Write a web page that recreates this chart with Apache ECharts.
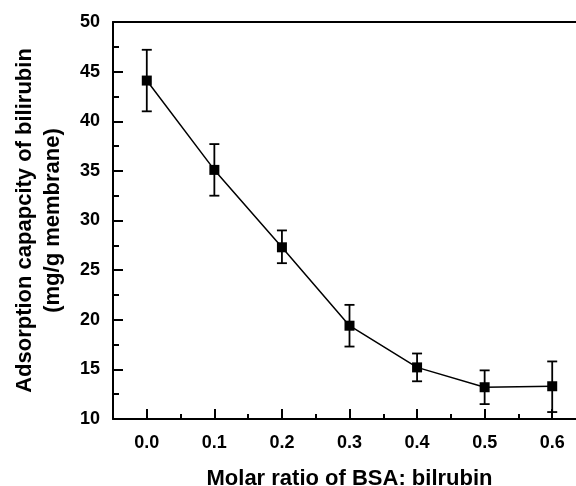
<!DOCTYPE html>
<html>
<head>
<meta charset="utf-8">
<script src="https://cdn.jsdelivr.net/npm/echarts@6/dist/echarts.min.js"></script>
<style>
  html, body { margin: 0; padding: 0; background: #fff; }
  #chart { width: 576px; height: 486px; }
</style>
</head>
<body>
<div id="chart"></div>
<script>
  // data
  var ratios = [0.0, 0.1, 0.2, 0.3, 0.4, 0.5, 0.6];
  var capacity = [44.1, 35.1, 27.3, 19.4, 15.2, 13.2, 13.3];
  var errLow = [41.0, 32.5, 25.7, 17.3, 13.8, 11.5, 10.7];
  var errHigh = [47.2, 37.7, 29.0, 21.5, 16.6, 14.9, 15.8];
  var xMajor = [0.0, 0.1, 0.2, 0.3, 0.4, 0.5, 0.6];
  var xMinor = [0.05, 0.15, 0.25, 0.35, 0.45, 0.55];

  var font = 'Liberation Sans, Arial, sans-serif';

  var points = ratios.map(function (r, i) { return [r, capacity[i]]; });
  var bars = ratios.map(function (r, i) { return [r, errLow[i], errHigh[i]]; });

  var chart = echarts.init(document.getElementById('chart'));
  chart.setOption({
    animation: false,
    grid: { left: 113, top: 22, right: -10, bottom: 67, outerBoundsMode: 'none', containLabel: false },
    xAxis: [{
      type: 'value',
      min: -0.05,
      max: 0.65,
      interval: 0.05,
      splitLine: { show: false },
      axisLine: { onZero: false, lineStyle: { color: '#000', width: 2 } },
      axisTick: { inside: true, length: 10, customValues: xMajor, lineStyle: { color: '#000', width: 2 } },
      axisLabel: {
        customValues: xMajor,
        margin: 15,
        color: '#000',
        fontFamily: font,
        fontWeight: 'bold',
        fontSize: 18,
        formatter: function (v) { return v.toFixed(1); }
      },
      name: 'Molar ratio of BSA: bilrubin',
      nameLocation: 'middle',
      nameGap: 49,
      nameTextStyle: { color: '#000', fontFamily: font, fontWeight: 'bold', fontSize: 22 }
    }, {
      // minor ticks
      type: 'value',
      min: -0.05,
      max: 0.65,
      interval: 0.05,
      position: 'bottom',
      splitLine: { show: false },
      axisLine: { show: false, onZero: false },
      axisTick: { inside: true, length: 5, customValues: xMinor, lineStyle: { color: '#000', width: 2 } },
      axisLabel: { show: false }
    }, {
      // top frame line
      type: 'value',
      min: -0.05,
      max: 0.65,
      position: 'top',
      splitLine: { show: false },
      axisLine: { onZero: false, lineStyle: { color: '#000', width: 2 } },
      axisTick: { show: false },
      axisLabel: { show: false }
    }],
    yAxis: {
      type: 'value',
      min: 10,
      max: 50,
      interval: 5,
      splitLine: { show: false },
      axisLine: { show: true, onZero: false, lineStyle: { color: '#000', width: 2 } },
      axisTick: { inside: true, length: 10, lineStyle: { color: '#000', width: 2 } },
      minorTick: { show: true, splitNumber: 2, length: 6, lineStyle: { color: '#000', width: 2 } },
      axisLabel: {
        margin: 13,
        color: '#000',
        fontFamily: font,
        fontWeight: 'bold',
        fontSize: 18
      },
      name: 'Adsorption capapcity of bilirubin\n(mg/g membrane)',
      nameLocation: 'middle',
      nameGap: 46,
      nameTextStyle: { color: '#000', fontFamily: font, fontWeight: 'bold', fontSize: 22, lineHeight: 28 }
    },
    series: [{
      type: 'custom',
      xAxisIndex: 0,
      data: bars,
      z: 3,
      renderItem: function (params, api) {
        var lo = api.coord([api.value(0), api.value(1)]);
        var hi = api.coord([api.value(0), api.value(2)]);
        var w = 5;
        var st = { stroke: '#000', lineWidth: 1.8 };
        return {
          type: 'group',
          children: [
            { type: 'line', shape: { x1: lo[0], y1: lo[1], x2: hi[0], y2: hi[1] }, style: st },
            { type: 'line', shape: { x1: lo[0] - w, y1: lo[1], x2: lo[0] + w, y2: lo[1] }, style: st },
            { type: 'line', shape: { x1: hi[0] - w, y1: hi[1], x2: hi[0] + w, y2: hi[1] }, style: st }
          ]
        };
      }
    }, {
      type: 'line',
      xAxisIndex: 0,
      data: points,
      z: 4,
      symbol: 'rect',
      symbolSize: 10,
      lineStyle: { color: '#000', width: 1.5 },
      itemStyle: { color: '#000' }
    }]
  });
</script>
</body>
</html>
